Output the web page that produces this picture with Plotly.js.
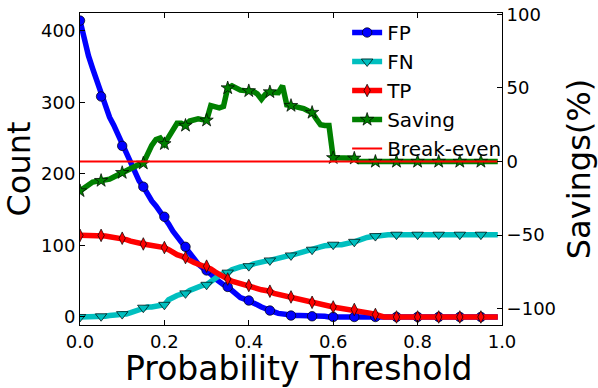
<!DOCTYPE html>
<html>
<head>
<meta charset="utf-8">
<script src="https://cdn.plot.ly/plotly-3.0.1.min.js"></script>
<style>
  html, body { margin: 0; padding: 0; background: #fff; }
  #grafico { width: 598px; height: 388px; }
</style>
</head>
<body>
<div id="grafico"></div>
<script>
// limiares de probabilidade, passo 0.01 (0.00 .. 0.99)
const limiares = Array.from({length: 100}, (_, i) => +(i * 0.01).toFixed(2));

const fp = [414,388,365,347,330,308,294,279,268,255,
            239,226,216,203,190,182,170,162,155,147,
            140,130,120,112,104,98,87,79,74,69,
            65,60,54,49,45,42,37,31,27,25,
            23,20,17,14,11,9,7,5,4,3,
            2,2,2,2,1,1,1,1,1,0,
            0,0,0,0,0,0,0,0,0,0,
            0,0,0,0,0,0,0,0,0,0,
            0,0,0,0,0,0,0,0,0,0,
            0,0,0,0,0,0,0,0,0,0];

const fn = [0,0,0,0,0,1,1,2,2,3,
            4,4,6,8,11,13,14,14,15,16,
            17,24,28,30,32,33,37,40,42,44,
            45,50,54,58,61,62,66,69,70,71,
            71,74,76,77,78,79,81,83,84,85,
            86,88,90,92,93,94,96,98,99.5,100.5,
            101,101,101,102,103,105,107,110,111,112,
            113,114.5,115,115,115,115,115,115,115,115,
            115,115,115,115,115,115,115,115,115,115,
            115,115,115,115,115,115,115,115,115,115];

const tp = [114,114,114,114,114,114,113,112,111,110,
            110,108,106,104,103,102,101,100,99,98,
            97,94,90,87,85,83,79,76,74,72,
            71,67,63,59,55,53,50,48,47,45,
            44,40,39,38,37,36,33,31.5,30,29,
            28,26,24.5,23,22,20.5,19,17.5,16,15,
            14,13,12,11.5,11,10.5,9,8,7,5,
            3.5,1.5,0,0,0,0,0,0,0,0,
            0,0,0,0,0,0,0,0,0,0,
            0,0,0,0,0,0,0,0,0,0];

// economia em %, eixo da direita
const saving = [-20,-18,-15,-14,-13.5,-13,-12.5,-12,-10.5,-9,
                -7.6,-6,-4.5,-3.5,-2,-1.2,6,11,15,16,
                12,17,21,26,26,24.5,27.5,28.5,29,28.5,
                28,38,37,36.5,37.5,50,51.5,49.5,48.5,48.2,
                48,47.8,46,42.3,46,47.3,47,46.8,51.5,38.5,
                38,37.5,37.3,36,34.5,33.3,29,25,24.5,24.5,
                2.5,2.5,2.5,2.5,2.5,2.2,0,0,0,0,
                0,0,0,0,0,0,0,0,0,0,
                0,0,0,0,0,0,0,0,0,0,
                0,0,0,0,0,0,0,0,0,0];

const breakEven = limiares.map(() => 0);

const xTicks = [0, 0.2, 0.4, 0.6, 0.8, 1.0];
const yTicks = [0, 100, 200, 300, 400];
const y2Ticks = [-100, -50, 0, 50, 100];

// matplotlib põe marcador a cada 5 pontos
const marcas = arr => arr.filter((_, i) => i % 5 === 0);

function serie(nome, valores, cor, simbolo, tamanho, eixo, rank) {
  const marker = { symbol: simbolo, size: tamanho, color: cor, line: { color: '#000', width: 0.7 } };
  const line = { color: cor, width: 5.5 };
  return [
    { x: limiares, y: valores, yaxis: eixo, mode: 'lines', line: line, showlegend: false, hoverinfo: 'skip' },
    { x: marcas(limiares), y: marcas(valores), yaxis: eixo, mode: 'markers', marker: marker, showlegend: false },
    // só para a legenda
    { x: [null], y: [null], yaxis: eixo, name: nome, mode: 'lines+markers', line: line, marker: marker, legendrank: rank }
  ];
}

const dados = [
  ...serie('FP', fp, '#0000ff', 'circle', 9.5, 'y', 1),
  ...serie('FN', fn, '#00bfbf', 'triangle-down', 10, 'y', 2),
  ...serie('TP', tp, '#ff0000', 'diamond-tall', 9, 'y', 3),
  ...serie('Saving', saving, '#008000', 'star', 10, 'y2', 4),
  { x: limiares, y: breakEven, yaxis: 'y2', name: 'Break-even', mode: 'lines', line: { color: '#ff0000', width: 2 }, legendrank: 5 }
];

const eixoBase = {
  ticks: 'inside', ticklen: 5, tickwidth: 1, tickcolor: '#000',
  showline: true, linecolor: '#000', linewidth: 1,
  showgrid: false, zeroline: false
};

const layout = {
  width: 598, height: 388,
  margin: { l: 80, r: 96, t: 13, b: 63 },
  paper_bgcolor: '#fff', plot_bgcolor: '#fff',
  font: { family: 'DejaVu Sans', size: 18, color: '#000' },
  showlegend: true,
  legend: { x: 0.633, y: 1.0, xanchor: 'left', yanchor: 'top', bgcolor: 'rgba(0,0,0,0)', borderwidth: 0, font: { size: 20 } },
  xaxis: { ...eixoBase, mirror: 'ticks', range: [0, 1], tickvals: xTicks, tickformat: '.1f' },
  yaxis: { ...eixoBase, range: [-11.2, 424.6], tickvals: yTicks,
           title: { text: 'Count', font: { size: 32 } } },
  yaxis2: { ...eixoBase, overlaying: 'y', side: 'right', range: [-111.2, 101], tickvals: y2Ticks,
            title: { text: 'Savings(%)', font: { size: 32 } } },
  // título do eixo x como anotação, para acertar a posição
  annotations: [{
    text: 'Probability Threshold', showarrow: false,
    xref: 'paper', yref: 'paper', x: 0.518, y: -0.07, xanchor: 'center', yanchor: 'top',
    font: { size: 33 }
  }]
};

Plotly.newPlot('grafico', dados, layout, { displayModeBar: false, staticPlot: true });
</script>
</body>
</html>
